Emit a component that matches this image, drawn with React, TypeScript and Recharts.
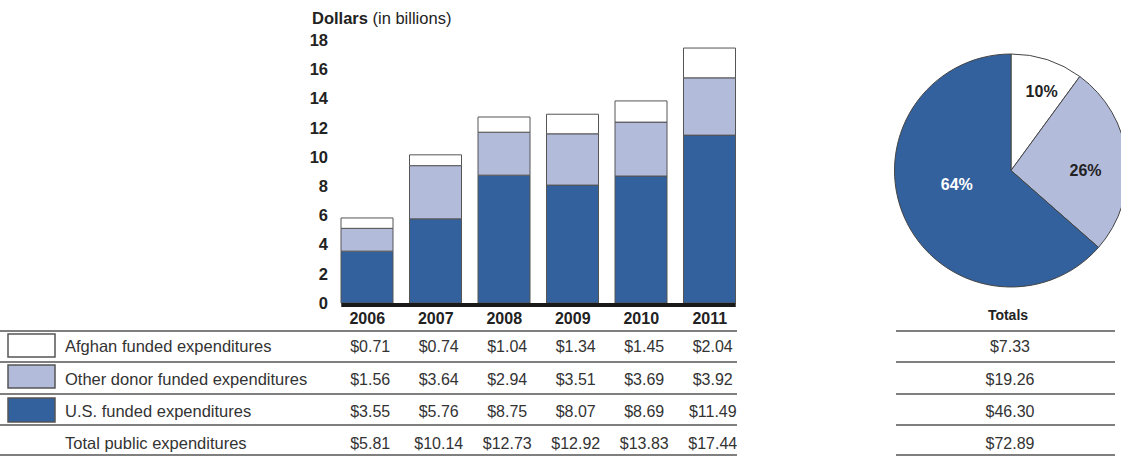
import { Bar, BarChart, Cell, Pie, PieChart, ReferenceLine, XAxis, YAxis } from "recharts";

const YEARS = ["2006", "2007", "2008", "2009", "2010", "2011"];
const AFGHAN = [0.71, 0.74, 1.04, 1.34, 1.45, 2.04];
const OTHER_DONOR = [1.56, 3.64, 2.94, 3.51, 3.69, 3.92];
const US = [3.55, 5.76, 8.75, 8.07, 8.69, 11.49];
const TOTAL = [5.81, 10.14, 12.73, 12.92, 13.83, 17.44];
const SERIES_NAMES = [
  "Afghan funded expenditures",
  "Other donor funded expenditures",
  "U.S. funded expenditures",
  "Total public expenditures",
];
const GRAND_TOTALS = [7.33, 19.26, 46.3, 72.89];
const Y_TICKS = [0, 2, 4, 6, 8, 10, 12, 14, 16, 18];

const FONT = '"Liberation Sans", Arial, sans-serif';
const TEXT = "#333";
const EDGE = "#555";
const BLUE = "#33619e";
const LAVENDER = "#b3bbdb";
const FILLS = ["#ffffff", LAVENDER, BLUE];

// bar geometry shared with the table columns below
const PLOT_LEFT = 333;
const BAND = 68.5;
const BAR_W = 52;

const barData = YEARS.map((year, i) => ({
  year,
  us: US[i],
  other: OTHER_DONOR[i],
  afghan: AFGHAN[i],
}));

const pieData = GRAND_TOTALS.slice(0, 3).map((value, i) => ({ name: SERIES_NAMES[i], value }));
const pieSum = GRAND_TOTALS[3];

const money = (v: number) => `$${v.toFixed(2)}`;

const RADIAN = Math.PI / 180;
// label radius (fraction of outer radius) and angle nudge per slice
const LABEL_POS = [
  { r: 0.73, da: -3 },
  { r: 0.64, da: -6 },
  { r: 0.48, da: -10 },
];

function PieLabel(props: any) {
  const { cx, cy, midAngle, outerRadius, index, value } = props;
  const { r: k, da } = LABEL_POS[index];
  const r = outerRadius * k;
  const a = (midAngle + da) * RADIAN;
  const x = cx + r * Math.cos(-a);
  const y = cy + r * Math.sin(-a);
  return (
    <text
      x={x}
      y={y}
      textAnchor="middle"
      dominantBaseline="central"
      fontFamily={FONT}
      fontSize={16}
      fontWeight="bold"
      fill={index === 2 ? "#fff" : "#222"}
    >
      {Math.round((value / pieSum) * 100)}%
    </text>
  );
}

// thick baseline running from the first bar's left edge to the last bar's right edge
function BaseLine(props: any) {
  const { x1, x2, y1 } = props;
  return (
    <line x1={x1 - BAR_W / 2} x2={x2 + BAR_W / 2} y1={y1 + 2} y2={y1 + 2} stroke="#1a1a1a" strokeWidth={4} />
  );
}

const ROW_Y = [346, 379, 411, 443];
const RULE_Y = [331, 362, 394, 425, 455];
const SWATCH = [
  { y: 334, h: 23 },
  { y: 365, h: 23 },
  { y: 398, h: 24 },
];
const ROWS = [AFGHAN, OTHER_DONOR, US, TOTAL];

function Table() {
  const colX = (i: number) => PLOT_LEFT + BAND * (i + 0.5) + 3;
  return (
    <svg width={1121} height={456} style={{ position: "absolute", left: 0, top: 0 }}>
      {RULE_Y.map((y) => (
        <line key={y} x1={0} x2={737} y1={y} y2={y} stroke={EDGE} strokeWidth={1.5} />
      ))}
      {RULE_Y.map((y) => (
        <line key={"t" + y} x1={896} x2={1115} y1={y} y2={y} stroke={EDGE} strokeWidth={1.5} />
      ))}
      {SWATCH.map((s, i) => (
        <rect key={i} x={8} y={s.y} width={47} height={s.h} fill={FILLS[i]} stroke={EDGE} strokeWidth={1.5} />
      ))}
      <g fontFamily={FONT} fontSize={16.5} fill={TEXT}>
        {SERIES_NAMES.map((name, r) => (
          <text key={name} x={65} y={ROW_Y[r]} dominantBaseline="central">
            {name}
          </text>
        ))}
      </g>
      <g fontFamily={FONT} fontSize={16} fill={TEXT}>
        {ROWS.map((row, r) =>
          row.map((v, i) => (
            <text key={r + "-" + i} x={colX(i)} y={ROW_Y[r]} textAnchor="middle" dominantBaseline="central">
              {money(v)}
            </text>
          ))
        )}
        {GRAND_TOTALS.map((v, r) => (
          <text key={"g" + r} x={1010} y={ROW_Y[r]} textAnchor="middle" dominantBaseline="central">
            {money(v)}
          </text>
        ))}
      </g>
      <text x={1008} y={315} textAnchor="middle" dominantBaseline="central" fontFamily={FONT} fontSize={14} fontWeight="bold" fill="#222">
        Totals
      </text>
      <text x={312} y={18} dominantBaseline="central" fontFamily={FONT} fontSize={16.5} fill="#222">
        <tspan fontWeight="bold">Dollars</tspan> (in billions)
      </text>
    </svg>
  );
}

export default function App() {
  return (
    <div
      style={{
        position: "absolute",
        left: 0,
        top: 0,
        width: 1121,
        height: 456,
        overflow: "hidden",
        background: "#fff",
        fontFamily: FONT,
      }}
    >
      <Table />
      <div style={{ position: "absolute", left: 0, top: 0 }}>
        <BarChart
          width={PLOT_LEFT + BAND * 6 + 16}
          height={340}
          data={barData}
          margin={{ top: 40, right: 16, bottom: 0, left: 0 }}
          barSize={BAR_W}
        >
          <YAxis
            width={PLOT_LEFT}
            domain={[0, 18]}
            ticks={Y_TICKS}
            interval={0}
            axisLine={false}
            tickLine={false}
            tickSize={0}
            tickMargin={5}
            tick={{ fontSize: 16.5, fontWeight: "bold", fill: "#222", fontFamily: FONT }}
          />
          <XAxis
            dataKey="year"
            height={37}
            axisLine={false}
            tickLine={false}
            tickSize={0}
            tickMargin={10}
            tick={{ fontSize: 16, fontWeight: "bold", fill: "#222", fontFamily: FONT }}
          />
          <Bar dataKey="us" stackId="a" fill={BLUE} stroke={EDGE} strokeWidth={1} isAnimationActive={false} />
          <Bar dataKey="other" stackId="a" fill={LAVENDER} stroke={EDGE} strokeWidth={1} isAnimationActive={false} />
          <Bar dataKey="afghan" stackId="a" fill="#ffffff" stroke={EDGE} strokeWidth={1} isAnimationActive={false} />
          <ReferenceLine
            segment={[
              { x: YEARS[0], y: 0 },
              { x: YEARS[YEARS.length - 1], y: 0 },
            ]}
            shape={BaseLine}
          />
        </BarChart>
      </div>
      <div style={{ position: "absolute", left: 880, top: 40 }}>
        <PieChart width={241} height={260} margin={{ top: 0, right: 0, bottom: 0, left: 0 }}>
          <Pie
            data={pieData}
            dataKey="value"
            cx={131}
            cy={130.5}
            outerRadius={116.5}
            startAngle={90}
            endAngle={-270}
            stroke="#444"
            strokeWidth={1}
            label={PieLabel}
            labelLine={false}
            isAnimationActive={false}
          >
            {pieData.map((d, i) => (
              <Cell key={d.name} fill={FILLS[i]} />
            ))}
          </Pie>
        </PieChart>
      </div>
    </div>
  );
}
